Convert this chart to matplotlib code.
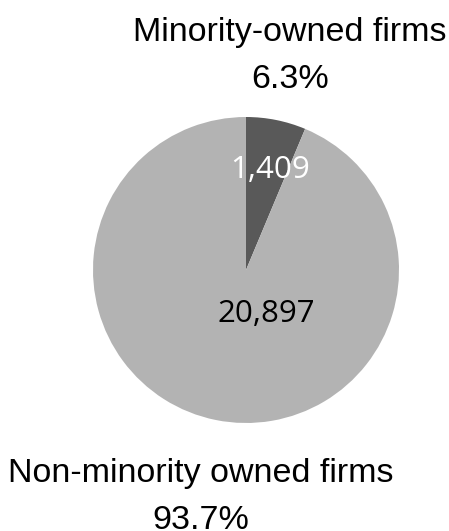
import matplotlib
matplotlib.use('Agg')
import matplotlib.pyplot as plt

categories = ['Minority-owned firms', 'Non-minority owned firms']
counts = [1409, 20897]
shares = [6.3, 93.7]
colors = ['#595959', '#b3b3b3']

fig = plt.figure(figsize=(4.49, 5.31), dpi=100)
ax = fig.add_axes([93 / 449, 108 / 531, 306 / 449, 306 / 531])
ax.pie(counts, colors=colors, startangle=90, counterclock=False,
       wedgeprops=dict(linewidth=0))
ax.set_aspect('equal')
ax.set_xlim(-1, 1)
ax.set_ylim(-1, 1)
ax.axis('off')

# counts inside the slices
ax.text(0.157, 0.601, '{:,}'.format(counts[0]), color='white',
        family='Open Sans', fontsize=22.5, ha='center', va='baseline')
ax.text(0.134, -0.340, '{:,}'.format(counts[1]), color='black',
        family='Open Sans', fontsize=22.5, ha='center', va='baseline')

# category names with shares
lab = dict(family='Liberation Sans', fontsize=24.5, ha='center', va='baseline')
fig.text(290 / 449, 1 - 41 / 531, categories[0], **lab)
fig.text(290 / 449, 1 - 88 / 531, '{}%'.format(shares[0]), **lab)
fig.text(201 / 449, 1 - 482 / 531, categories[1], **lab)
fig.text(201 / 449, 1 - 529 / 531, '{}%'.format(shares[1]), **lab)

fig.savefig('out.png', dpi=100)
